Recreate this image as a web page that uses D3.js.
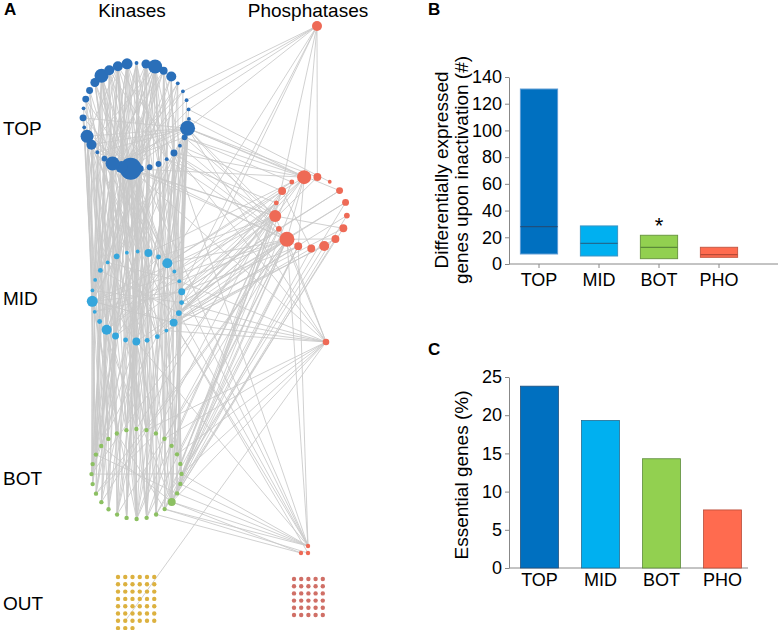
<!DOCTYPE html>
<html><head><meta charset="utf-8">
<script src="https://cdn.jsdelivr.net/npm/d3@7"></script>
<style>
body{margin:0;background:#fff}
svg text{font-family:"Liberation Sans",Arial,Helvetica,sans-serif;fill:#000}
</style>
</head><body>
<svg id="chart" width="779" height="630"></svg>
<script>
// ---------- DATA ----------
const categories = ["TOP", "MID", "BOT", "PHO"];
// Panel B: differentially expressed genes upon inactivation (#) — box lower, median, upper
const degLower  = [7.5, 6, 4, 5];
const degMedian = [28, 15.5, 12.5, 7];
const degUpper  = [131, 28.5, 21.5, 12.5];
const degTicks  = [0, 20, 40, 60, 80, 100, 120, 140];
// Panel C: essential genes (%)
const essential = [23.8, 19.3, 14.3, 7.6];
const essTicks  = [0, 5, 10, 15, 20, 25];

// Panel A: network node degrees (ring order, clockwise)
const topDegree = [21,25,3,17,41,13,21,3,3,3,3,3,47,7,3,10,3,7,7,10,100,30,41,7,3,21,35,3,10,3,10,10,17,41,21];
const midDegree = [3,3,13,5,21,3,3,10,5,7,13,3,5,5,13,5,10,21,5,3,25,3,3,5,3,7];
const botDegree = [4,4,4,4,4,4,4,4,4,4,4,13,4,4,4,4,4,4,4,4,4,4,4,4,4,4,4,4];
const phoDegree = [41,13,3,10,10,7,13,13,21,13,13,47,7,30,5,13,5];
const singleDegree = [21,9,4,4,4];
const outKinaseCount = 45;
const outPhosphataseCount = 30;

// Edge lists (source:targets)
const edgesTT = "0-20 0-21 0-22 0-18 0-24 0-15 0-26 1-20 1-22 1-18 1-16 1-21 2-19 2-21 2-22 2-17 2-20 3-18 3-20 3-23 3-21 3-16 4-17 4-20 4-19 4-22 4-15 4-25 5-16 5-20 5-21 5-14 6-15 6-19 6-20 7-17 7-20 7-21 33-22 33-20 33-24 33-21 34-21 34-19 34-16 34-20 32-23 32-20 32-21 31-24 31-22 30-20 30-23 29-22 12-20 12-26 12-28 12-25 12-22 12-24 11-21 13-22 10-20 9-21 26-20 25-20 28-20 27-21 8-22 8-20 24-20 22-4 23-5";
const edgesTM = "0:0,1,20,17,14|1:0,2,16,22|2:1,4,14,20|3:2,5,13,17|4:4,7,1,20,14|5:3,10|6:6,12|7:4,9|8:7|9:8|10:6|11:10,4|12:7,11,20,0,14,17,4,9|13:9|14:5,12|15:4,10,14|16:3,13,20|17:1,11,16|18:2,14,23|19:0,15,20,24|20:0,1,2,3,4,10,14,16,17,20,22,24,13|21:1,17,20,25,12,7|22:20,0,24,16,2,9|23:21,25,17|24:22,18,0|25:20,23,14,4|26:17,20,1,10|27:21|28:22,16|29:20|30:19,24|31:18|32:25,14|33:17,0,20,4,13|34:16,23";
const edgesTB = "0:1,15,22|1:3,19|2:2,13|3:16,0|4:14,20,11|5:12|6:9|12:11,15,22,6|15:8,14|16:10|17:4,17|18:1,18|19:0,16,21|20:1,2,13,15,17,19,22,24,11,7|21:3,14,23,26|22:22,25,15,27|23:24,20|24:23,26,15|25:21,27|26:18,24,2|28:25|33:14,20|34:17";
const edgesMM = "1-14 0-15 2-13 4-16 20-7 17-4 10-20 3-18 5-17 14-22 13-24 12-0 16-1 23-9 24-6 21-8 1-17 2-15 4-14 0-12 25-11 19-7 20-10 6-19 3-15";
const edgesMB = "0:1,15,20|1:2,16,0|2:3,14|3:4,13|4:5,12,11|5:8|6:9|7:11,10|8:11|9:12|10:11,13,15|11:13,6|12:14,2|13:15,1,17|14:0,1,2,3,15,16,18,19,22,11,14|15:17,20,2|16:18,22,24|17:19,0,25,21|18:21,26|19:23|20:22,27,15,11|21:24|22:25,1|23:26,16|24:27|25:0,18";
const edgesBB = "1-15 0-16 2-14 3-13 27-17 26-18 22-8 1-17 2-19 3-20 4-15 5-14 27-12 25-11 24-10";
const edgesPP = "0-11 0-13 11-4 13-6 11-7 15-9 10-0 12-3";
const edgesPK = "P0:T11,T12,T13,T15,T20,M4,M7,M10,B11|P1:T12,M9|P2:T10|P3:T12,M7|P4:M8,B8|P5:M10,B11|P6:M9,B12|P7:M11,B10|P8:M10,B13|P9:M12,B11|P10:M7,M10,B9,B13,T19,B12|P11:T12,T15,T16,T20,M4,M6,M8,M10,M11,M14,M20,B6,B8,B11,B14,B20,B17,B2|P12:M7,M9,B7,T14,B4,M13|P13:T12,T13,T15,T20,T22,M3,M5,M7,M9,M12,B5,B9,B11,B15,M20,M16,B22|P14:M6,M8,B10,T16,B3,M17|P15:T14,M5,M9,B12,B1|P16:T13,M4,B7,M2";
const edgesS = "S0:T8,T9,T10,T12,M4,B24,P0,P1,P13,M10|S1:M8,M6,M9,B2,B4,B11,T15,P11,P13,T12,M11,B8,K37,M10,B6,T20|S2:P11,P10,T15,T19,T21,M10,B11,B9,B12,M9,B10,B8,M14|S3:B11,B13|S4:B12,M10";

// ---------- LAYOUT ----------
const layout = {
  T: {cx: 136, cy: 116, r: 53, start: -110, color: "#2a6fb9"},
  M: {cx: 137, cy: 296.5, r: 45, start: -103, color: "#35a6dc"},
  B: {cx: 136.5, cy: 474, r: 45, start: -103, color: "#8cc062"},
  P: {cx: 311, cy: 212.5, r: 36, start: -101, color: "#ee6a56"},
  S: {pos: [[317, 26], [326, 342], [308, 546], [301, 553], [308, 553]], color: "#ee6a56"},
  K: {x0: 118, y0: 577, dx: 7.25, dy: 7.3, cols: 6, color: "#dcb13f"},
  Q: {x0: 294, y0: 579, dx: 7.2, dy: 7.2, cols: 5, color: "#d06f66"}
};
const colors = {bars: ["#0070c0", "#00b0f0", "#92d050", "#ff6b4f"],
  barStroke: ["#5d9bd3", "#3b95c4", "#6c9a42", "#c85a45"],
  median: ["#1f4f7d", "#1f6b92", "#5b8a39", "#b84a36"]};

const svg = d3.select("#chart");
const rScale = d3.scaleSqrt().domain([0, 120]).range([0, 12]);
const nodes = {};

function ring(key, deg) {
  const L = layout[key];
  const ang = d3.scaleLinear().domain([0, deg.length]).range([L.start, L.start + 360]);
  deg.forEach((d, i) => {
    const a = ang(i) * Math.PI / 180;
    nodes[key + i] = {x: L.cx + L.r * Math.cos(a), y: L.cy + L.r * Math.sin(a), r: rScale(d), c: L.color};
  });
}
ring("T", topDegree); ring("M", midDegree); ring("B", botDegree); ring("P", phoDegree);
singleDegree.forEach((d, i) => nodes["S" + i] = {x: layout.S.pos[i][0], y: layout.S.pos[i][1], r: rScale(d), c: layout.S.color});
function grid(key, n) {
  const L = layout[key];
  d3.range(n).forEach(i => {
    nodes[key + i] = {x: L.x0 + (i % L.cols) * L.dx, y: L.y0 + Math.floor(i / L.cols) * L.dy, r: rScale(4), c: L.color};
  });
}
grid("K", outKinaseCount); grid("Q", outPhosphataseCount);

const edges = [];
function pairs(str, a, b) { str.split(" ").forEach(p => { const [s, t] = p.split("-"); edges.push([a + s, b + t]); }); }
function adj(str, a, b) {
  str.split("|").forEach(g => {
    const [s, ts] = g.split(":");
    ts.split(",").forEach(t => edges.push([a + s, b + t]));
  });
}
pairs(edgesTT, "T", "T"); adj(edgesTM, "T", "M"); adj(edgesTB, "T", "B");
pairs(edgesMM, "M", "M"); adj(edgesMB, "M", "B"); pairs(edgesBB, "B", "B");
pairs(edgesPP, "P", "P"); adj(edgesPK, "", ""); adj(edgesS, "", "");

const gNet = svg.append("g");
gNet.selectAll("line").data(edges.filter(e => nodes[e[0]] && nodes[e[1]])).join("line")
  .attr("x1", e => nodes[e[0]].x).attr("y1", e => nodes[e[0]].y)
  .attr("x2", e => nodes[e[1]].x).attr("y2", e => nodes[e[1]].y)
  .attr("stroke", "#c9c9c9").attr("stroke-width", 0.9).attr("stroke-opacity", 0.95);
gNet.selectAll("circle").data(Object.values(nodes)).join("circle")
  .attr("cx", d => d.x).attr("cy", d => d.y).attr("r", d => d.r).attr("fill", d => d.c);

// Panel A labels
const lab = svg.append("g");
lab.append("text").attr("x", 4).attr("y", 15).attr("font-size", 17).attr("font-weight", "bold").text("A");
lab.append("text").attr("x", 132).attr("y", 17).attr("font-size", 19).attr("text-anchor", "middle").text("Kinases");
lab.append("text").attr("x", 308).attr("y", 17).attr("font-size", 19).attr("text-anchor", "middle").text("Phosphatases");
[["TOP", 135], ["MID", 305], ["BOT", 485], ["OUT", 610]].forEach(([t, y]) =>
  lab.append("text").attr("x", 3).attr("y", y).attr("font-size", 19).text(t));

// ---------- Panel B ----------
const xB = d3.scaleBand().domain(categories).range([509, 749]).paddingInner(0.38).paddingOuter(0.19);
const yB = d3.scaleLinear().domain([0, 140]).range([264, 77]);
const gB = svg.append("g");
gB.append("text").attr("x", 428).attr("y", 15).attr("font-size", 17).attr("font-weight", "bold").text("B");
const axB = gB.append("g").attr("transform", "translate(509,0)")
  .call(d3.axisLeft(yB).tickValues(degTicks).tickSize(4).tickSizeOuter(0).tickPadding(3));
axB.select(".domain").attr("stroke", "#888");
axB.selectAll(".tick line").attr("stroke", "#888");
axB.selectAll(".tick text").attr("font-size", 18).attr("fill", "#000").attr("font-family", "Liberation Sans, Arial, sans-serif");
gB.append("line").attr("x1", 509).attr("x2", 778).attr("y1", yB(0)).attr("y2", yB(0)).attr("stroke", "#888");
categories.forEach((c, i) => {
  const x0 = xB(c), w = xB.bandwidth(), cx = x0 + w / 2;
  gB.append("line").attr("x1", cx).attr("x2", cx).attr("y1", yB(0)).attr("y2", yB(0) + 4).attr("stroke", "#888");
  gB.append("rect").attr("x", x0).attr("y", yB(degUpper[i])).attr("width", w)
    .attr("height", yB(degLower[i]) - yB(degUpper[i])).attr("fill", colors.bars[i]).attr("stroke", colors.barStroke[i]);
  gB.append("line").attr("x1", x0).attr("x2", x0 + w).attr("y1", yB(degMedian[i])).attr("y2", yB(degMedian[i]))
    .attr("stroke", colors.median[i]).attr("stroke-width", 1.2);
  gB.append("text").attr("x", cx).attr("y", 286).attr("font-size", 18).attr("text-anchor", "middle").text(c);
});
gB.append("text").attr("x", xB("BOT") + xB.bandwidth() / 2).attr("y", 233).attr("font-size", 22)
  .attr("text-anchor", "middle").text("*");
const yLabB = gB.append("text").attr("transform", "translate(0,170) rotate(-90)").attr("font-size", 19).attr("text-anchor", "middle");
yLabB.append("tspan").attr("x", 0).attr("y", 448).text("Differentially expressed");
yLabB.append("tspan").attr("x", 0).attr("y", 468).text("genes upon inactivation (#)");

// ---------- Panel C ----------
const xC = d3.scaleBand().domain(categories).range([509, 753]).paddingInner(0.38).paddingOuter(0.19);
const yC = d3.scaleLinear().domain([0, 25]).range([568, 377]);
const gC = svg.append("g");
gC.append("text").attr("x", 428).attr("y", 355).attr("font-size", 17).attr("font-weight", "bold").text("C");
const axC = gC.append("g").attr("transform", "translate(509,0)")
  .call(d3.axisLeft(yC).tickValues(essTicks).tickSize(4).tickSizeOuter(0).tickPadding(3));
axC.select(".domain").attr("stroke", "#888");
axC.selectAll(".tick line").attr("stroke", "#888");
axC.selectAll(".tick text").attr("font-size", 18).attr("fill", "#000").attr("font-family", "Liberation Sans, Arial, sans-serif");
gC.append("line").attr("x1", 509).attr("x2", 748).attr("y1", yC(0)).attr("y2", yC(0)).attr("stroke", "#888");
gC.selectAll("rect").data(categories).join("rect")
  .attr("x", c => xC(c)).attr("y", (c, i) => yC(essential[i])).attr("width", xC.bandwidth())
  .attr("height", (c, i) => yC(0) - yC(essential[i]))
  .attr("fill", (c, i) => colors.bars[i]).attr("stroke", (c, i) => colors.median[i]).attr("stroke-width", 0.8);
categories.forEach(c => gC.append("text").attr("x", xC(c) + xC.bandwidth() / 2).attr("y", 586)
  .attr("font-size", 18).attr("text-anchor", "middle").text(c));
gC.append("text").attr("transform", "translate(468,475) rotate(-90)").attr("font-size", 19)
  .attr("text-anchor", "middle").text("Essential genes (%)");
</script>
</body></html>
